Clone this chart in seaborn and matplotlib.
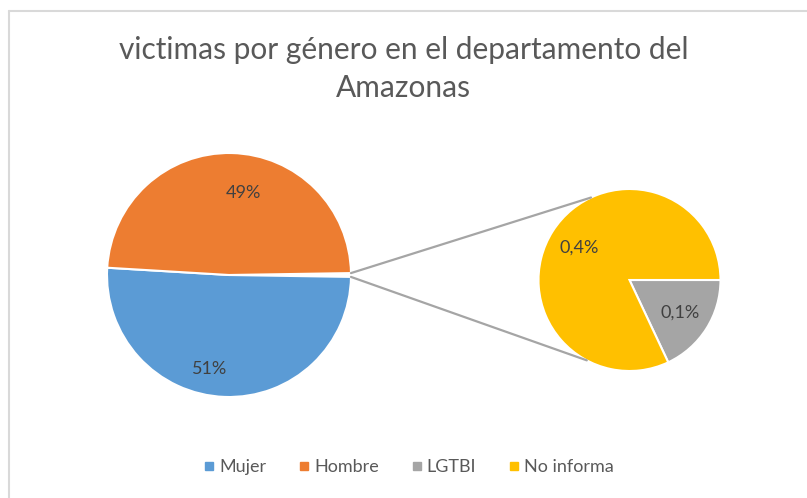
import matplotlib
matplotlib.use("Agg")
import matplotlib.pyplot as plt
from matplotlib.patches import ConnectionPatch
from matplotlib.lines import Line2D
import seaborn as sns
import numpy as np

# ---- data ----
categories = ["Mujer", "Hombre", "LGTBI", "No informa"]
values = [50.7, 48.8, 0.09, 0.41]          # % of victims
main_labels = ["51%", "49%"]
sub_labels = ["0,1%", "0,4%"]
title = "victimas por género en el departamento del\nAmazonas"

sns.set_theme(style="white")
plt.rcParams["font.family"] = ["Lato", "DejaVu Sans"]

colors = {"Mujer": "#5B9BD5", "Hombre": "#ED7D31", "LGTBI": "#A5A5A5", "No informa": "#FFC000"}
text_col = "#404040"

W, H = 807, 498
fig = plt.figure(figsize=(W / 100, H / 100), dpi=100)
fig.patch.set_facecolor("white")

def px_axes(cx, cy, r):
    return fig.add_axes([(cx - r) / W, (H - cy - r) / H, 2 * r / W, 2 * r / H])

# chart-area border (top and left edges visible)
fig.add_artist(Line2D([9 / W, 1], [1 - 11 / H, 1 - 11 / H], color="#D9D9D9", lw=1.5))
fig.add_artist(Line2D([9 / W, 9 / W], [1 - 11 / H, 0], color="#D9D9D9", lw=1.5))

fig.text(0.5, 1 - 69 / H, title, ha="center", va="center", fontsize=21.5,
         color="#595959", linespacing=1.45)

# ---- main pie ----
other = values[2] + values[3]
main_vals = [other, values[0], values[1]]
half_other = other / sum(main_vals) * 360 / 2
ax1 = px_axes(229, 275, 122)
w1, _ = ax1.pie(main_vals, colors=["white", colors["Mujer"], colors["Hombre"]],
                startangle=half_other, counterclock=False, radius=1,
                wedgeprops=dict(edgecolor="white", linewidth=1.5))
ax1.set_xlim(-1, 1); ax1.set_ylim(-1, 1); ax1.set_aspect("equal"); ax1.axis("off")
# label placement (Excel-like)
ax1.text(0.12, 0.67, main_labels[1], ha="center", va="center", fontsize=13, color=text_col)
ax1.text(-0.16, -0.77, main_labels[0], ha="center", va="center", fontsize=13, color=text_col)

# ---- secondary pie ----
sub_vals = [values[2], values[3]]
ax2 = px_axes(629.5, 280, 91)
w2, _, t2 = ax2.pie(sub_vals, colors=[colors["LGTBI"], colors["No informa"]],
                    startangle=0, counterclock=False, radius=1,
                    autopct="%.1f%%", pctdistance=0.66,
                    wedgeprops=dict(edgecolor="white", linewidth=1.5),
                    textprops=dict(fontsize=13, color=text_col))
for t, s in zip(t2, sub_labels):
    t.set_text(s)
ax2.set_xlim(-1, 1); ax2.set_ylim(-1, 1); ax2.set_aspect("equal"); ax2.axis("off")

# ---- connector lines ----
a_top = np.deg2rad(w1[0].theta2)
a_bot = np.deg2rad(w1[0].theta1)
for a_main, a_sub in [(a_top, np.deg2rad(115)), (a_bot, np.deg2rad(-118))]:
    con = ConnectionPatch(xyA=(np.cos(a_main), np.sin(a_main)), coordsA=ax1.transData,
                          xyB=(np.cos(a_sub), np.sin(a_sub)), coordsB=ax2.transData,
                          color="#A5A5A5", lw=1.6)
    fig.add_artist(con)

# ---- legend ----
handles = [Line2D([0], [0], marker="s", linestyle="", markersize=6,
                  markerfacecolor=colors[c], markeredgecolor=colors[c]) for c in categories]
fig.legend(handles, categories, loc="center", bbox_to_anchor=(408 / W, 1 - 467 / H),
           ncol=4, frameon=False, fontsize=13, labelcolor="#595959",
           handletextpad=0.15, columnspacing=1.7, handlelength=0.8)

fig.savefig("out.png", dpi=100)
